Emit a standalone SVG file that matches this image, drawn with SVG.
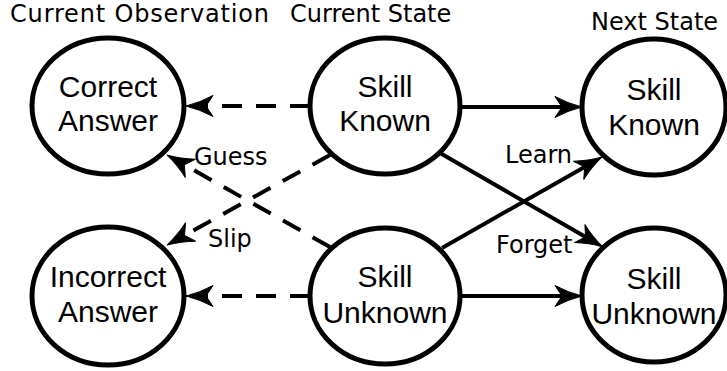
<svg xmlns="http://www.w3.org/2000/svg" width="727" height="371" viewBox="0 0 727 371">
  <style>
    .node { fill: #fff; stroke: #000; stroke-width: 5; }
    .lbl { font-family: "Liberation Sans", Arial, sans-serif; font-size: 30px; fill: #000; text-anchor: middle; }
    .hdr { font-family: "DejaVu Sans", "Noto Sans", sans-serif; font-size: 24px; fill: #000; }
    .edge { stroke: #000; stroke-width: 4; fill: none; marker-end: url(#arrow); }
    .dash { stroke-dasharray: 20 14; }
  </style>
  <defs>
    <marker id="arrow" markerUnits="userSpaceOnUse" viewBox="-18 -12 32 24" markerWidth="32" markerHeight="24" refX="0" refY="0" orient="auto">
      <path d="M12,0 Q-2,-3.5 -15,-10.5 L-8,0 L-15,10.5 Q-2,3.5 12,0 Z" fill="#000" stroke="#000" stroke-width="1" stroke-linejoin="miter"/>
    </marker>
  </defs>

  <!-- column headers -->
  <text class="hdr" x="10" y="22" textLength="259" lengthAdjust="spacing">Current Observation</text>
  <text class="hdr" x="290" y="22">Current State</text>
  <text class="hdr" x="591" y="30">Next State</text>

  <!-- connectors -->
  <g id="edges">
    <line class="edge dash" x1="310" y1="106" x2="198" y2="106"/>
    <line class="edge dash" x1="330" y1="247" x2="177.4" y2="160.9"/>
    <line class="edge dash" x1="330" y1="155" x2="177.5" y2="239.2"/>
    <line class="edge dash" x1="310" y1="296" x2="198" y2="296"/>
    <line class="edge" x1="460" y1="107" x2="570" y2="107"/>
    <line class="edge" x1="460" y1="296" x2="570" y2="296"/>
    <line class="edge" x1="440" y1="153" x2="592.6" y2="241"/>
    <line class="edge" x1="442" y1="248" x2="591.6" y2="162.9"/>
    <text class="hdr" x="194" y="165">Guess</text>
    <text class="hdr" x="208" y="247">Slip</text>
    <text class="hdr" x="505" y="163">Learn</text>
    <text class="hdr" x="496" y="253">Forget</text>
  </g>

  <g id="correct-answer">
    <ellipse class="node" cx="108" cy="106" rx="76" ry="68"/>
    <text class="lbl" x="108" y="97">Correct</text>
    <text class="lbl" x="108" y="131">Answer</text>
  </g>
  <g id="skill-known-current">
    <ellipse class="node" cx="385" cy="106" rx="75" ry="68"/>
    <text class="lbl" x="385" y="97">Skill</text>
    <text class="lbl" x="385" y="131">Known</text>
  </g>
  <g id="skill-known-next">
    <ellipse class="node" cx="654" cy="107" rx="72" ry="68"/>
    <text class="lbl" x="654" y="100">Skill</text>
    <text class="lbl" x="654" y="135">Known</text>
  </g>
  <g id="incorrect-answer">
    <ellipse class="node" cx="108" cy="296" rx="76" ry="69"/>
    <text class="lbl" x="108" y="287">Incorrect</text>
    <text class="lbl" x="108" y="322">Answer</text>
  </g>
  <g id="skill-unknown-current">
    <ellipse class="node" cx="385" cy="296" rx="75" ry="68"/>
    <text class="lbl" x="385" y="287">Skill</text>
    <text class="lbl" x="385" y="323">Unknown</text>
  </g>
  <g id="skill-unknown-next">
    <ellipse class="node" cx="654" cy="295" rx="72" ry="67"/>
    <text class="lbl" x="654" y="289">Skill</text>
    <text class="lbl" x="654" y="324">Unknown</text>
  </g>
</svg>
